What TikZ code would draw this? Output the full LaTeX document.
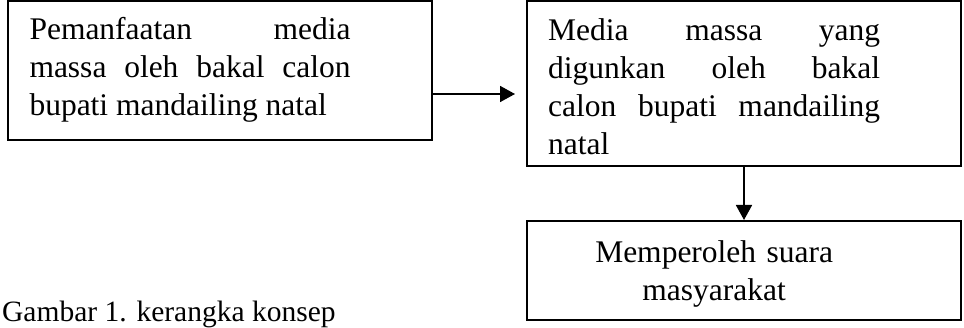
\documentclass[tikz,border=0pt]{standalone}
\usepackage{fontspec}
\setmainfont{Liberation Serif}
\usetikzlibrary{arrows.meta,calc}
\begin{document}
\begin{tikzpicture}[x=1pt,y=-1pt,
  box/.style={draw=black,line width=2pt,rectangle,inner sep=0pt},
  txt/.style={inner sep=0pt,anchor=north west,font=\fontsize{31.5}{38}\selectfont},
  arr/.style={line width=1.7pt,-{Triangle[length=15pt,width=16pt]}}]
\useasboundingbox (0,0) rectangle (964,328);
\node[box,minimum width=424pt,minimum height=139pt] (b1) at (220,70.5) {};
\node[box,minimum width=434pt,minimum height=165pt] (b2) at (744,83.5) {};
\node[box,minimum width=434pt,minimum height=99pt] (b3) at (744,270.5) {};
\node[txt,text width=321pt,align=justify] (t1) at (29.3,15) {\rule{0pt}{24pt}Pemanfaatan media\linebreak massa oleh bakal calon\linebreak bupati mandailing natal};
\node[txt,text width=332pt,align=justify] (t2) at (548,16) {\rule{0pt}{24pt}Media massa yang\linebreak digunkan oleh bakal\linebreak calon bupati mandailing\linebreak natal};
\node[txt,text width=332pt,align=center] (t3) at (548,238) {\rule{0pt}{24pt}Memperoleh suara\\masyarakat};
\node[inner sep=0pt,anchor=base west,font=\fontsize{29.5}{36}\selectfont] (cap) at (2,322) {Gambar 1. kerangka konsep};
\draw[arr,shorten >=11pt] ([yshift=-23.5pt]b1.east) -- ([yshift=-23.5pt]b1.east -| b2.west);
\draw[arr] (b2.south) -- (b3.north);
\end{tikzpicture}
\end{document}
